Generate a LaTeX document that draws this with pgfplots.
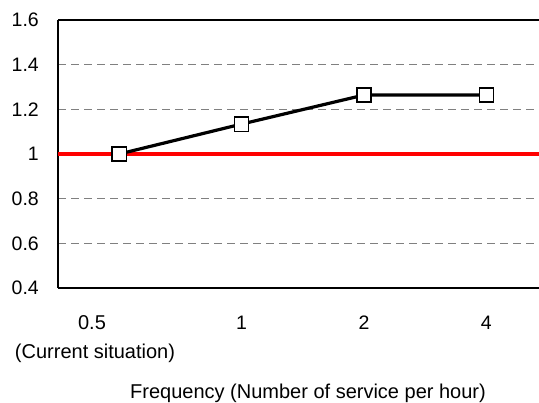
\documentclass[border=0pt]{standalone}
\usepackage{fontspec}
\setmainfont{Liberation Sans}
\usepackage{pgfplots}
\pgfplotsset{compat=1.18}
\begin{document}
\fontsize{20bp}{24bp}\selectfont
\begin{tikzpicture}
\begin{axis}[
  scale only axis, width=481bp, height=268bp,
  xmin=-0.5, xmax=3.43, ymin=0.4, ymax=1.6,
  axis x line*=box, axis y line*=left,
  axis line style={-, line width=1.3bp, black},
  xtick={1,2,3}, xticklabels={1,2,4},
  ytick={0.4,0.6,0.8,1,1.2,1.4,1.6},
  major tick length=0,
  ymajorgrids,
  grid style={gray, dash pattern=on 8bp off 5bp, line width=1.2bp},
  yticklabel style={anchor=east, inner sep=0pt, xshift=-19bp},
  xticklabel style={anchor=base, inner sep=0pt, yshift=-41bp},
  /pgf/number format/assume math mode=true,
  tick label style={font=\fontsize{19.5bp}{23bp}\selectfont},
  clip=false,
]
\addplot[red, line width=4bp, forget plot] coordinates {(-0.5,1) (3.43,1)};
\addplot[black, line width=3.2bp, mark=square*, mark size=7.1bp,
  mark options={fill=white, draw=black, line width=1.3bp, solid}]
  coordinates {(0,1.0) (1,1.134) (2,1.264) (3,1.264)};
\coordinate (O) at (rel axis cs:0,0);
\end{axis}
\node[anchor=base, inner sep=0pt] at ([shift={(34bp,-41bp)}]O) {0.5};
\node[anchor=base, inner sep=0pt] at ([shift={(37bp,-70bp)}]O) {(Current situation)};
\node[anchor=base, inner sep=0pt] at ([shift={(250bp,-110bp)}]O) {Frequency (Number of service per hour)};
\pgfresetboundingbox
\path ([shift={(-58bp,-115bp)}]O) rectangle ([shift={(481bp,288bp)}]O);
\end{tikzpicture}
\end{document}
